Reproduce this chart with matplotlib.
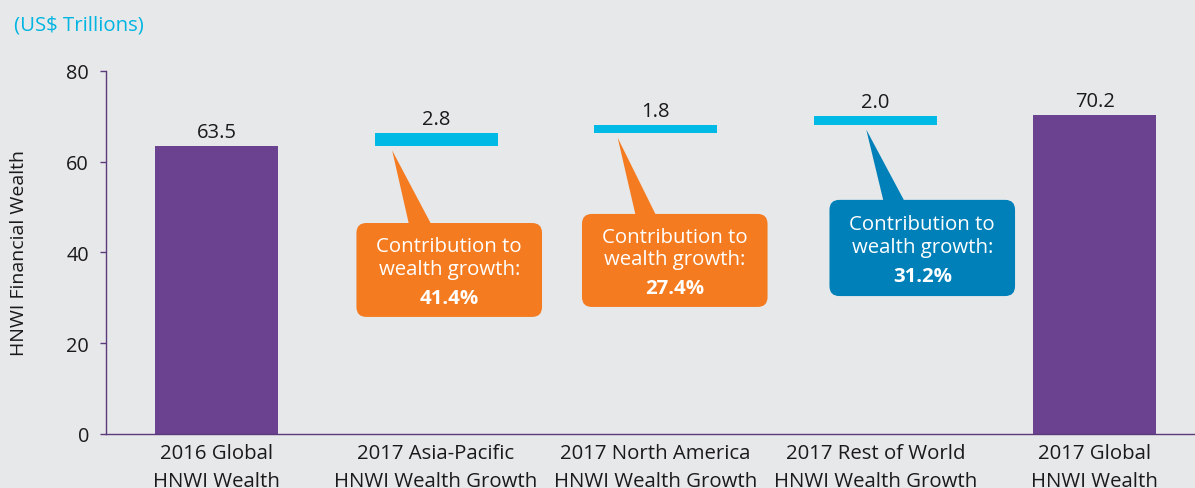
import matplotlib.pyplot as plt
from matplotlib.patches import FancyBboxPatch, Polygon
import numpy as np

categories = [
    "2016 Global\nHNWI Wealth",
    "2017 Asia-Pacific\nHNWI Wealth Growth",
    "2017 North America\nHNWI Wealth Growth",
    "2017 Rest of World\nHNWI Wealth Growth",
    "2017 Global\nHNWI Wealth",
]
values = [63.5, 2.8, 1.8, 2.0, 70.2]
is_total = [True, False, False, False, True]

contrib_cats = [1, 2, 3]
contrib_pct = ["41.4%", "27.4%", "31.2%"]
contrib_colors = ["#f47b20", "#f47b20", "#0080b9"]

# callout layout: box centre offset from bar (cat units), box y range, pointer base offsets
box_dx = [0.06, 0.087, 0.214]
box_y = [(25.8, 46.5), (28.0, 48.5), (30.4, 51.6)]
apex_dx = [-0.20, -0.173, -0.041]
base_dx = [(-0.12, -0.014), (-0.088, 0.009), (0.041, 0.141)]

PURPLE = "#6b4290"
CYAN = "#00b9e4"
BG = "#e7e8ea"
AXIS = "#5b3a7c"
TXT = "#1a1a1a"

plt.rcParams["font.family"] = ["Open Sans", "DejaVu Sans"]

W, H = 1195, 489
fig = plt.figure(figsize=(W / 100, H / 100), dpi=100, facecolor=BG)
ax = fig.add_axes([106 / W, 54 / H, 1 - 106 / W, 363 / H])
ax.set_facecolor(BG)

x = np.arange(len(values))
bottoms = []
run = 0.0
for v, tot in zip(values, is_total):
    if tot:
        bottoms.append(0.0)
        run = v
    else:
        bottoms.append(run)
        run += v
colors = [PURPLE if t else CYAN for t in is_total]
ax.bar(x, values, bottom=bottoms, width=0.56, color=colors, zorder=2)

for i, (v, b) in enumerate(zip(values, bottoms)):
    ax.annotate(f"{v:.1f}", (i, b + v), xytext=(0, 6.5), textcoords="offset points",
                ha="center", va="baseline", fontsize=14.5, color=TXT)

ax.set_xlim(-0.503, 4.456)
ax.set_ylim(0, 80)
ax.set_yticks([0, 20, 40, 60, 80])
ax.set_xticks(x)
ax.set_xticklabels(categories, fontsize=14.7, color=TXT, linespacing=1.55)
ax.tick_params(axis="x", length=0, pad=6.5)
ax.tick_params(axis="y", length=4.3, width=1, color=AXIS, pad=8, labelsize=14.3, labelcolor=TXT)
for s in ["top", "right"]:
    ax.spines[s].set_visible(False)
for s in ["left", "bottom"]:
    ax.spines[s].set_color(AXIS)
    ax.spines[s].set_linewidth(1)

ax.set_ylabel("HNWI Financial Wealth", fontsize=14, color=TXT)
ax.yaxis.set_label_coords(-0.0716, 0.5)

fig.text(14 / W, 1 - 26 / H, "(US$ Trillions)", fontsize=14.7, color="#00b5e2", va="center", ha="left")

# aspect so rounded corners look circular
ax_w = ax.get_position().width * W
ax_h = ax.get_position().height * H
xr = 4.456 + 0.503
asp = (80 / ax_h) / (xr / ax_w)

for k, c in enumerate(contrib_cats):
    cx = c + box_dx[k]
    y0, y1 = box_y[k]
    bw = 0.845
    col = contrib_colors[k]
    box = FancyBboxPatch((cx - bw / 2, y0), bw, y1 - y0,
                         boxstyle="round,pad=0,rounding_size=0.045",
                         mutation_aspect=asp, facecolor=col, edgecolor="none", zorder=3)
    ax.add_patch(box)
    apex_y = bottoms[c] - 1.0
    tri = Polygon([(c + apex_dx[k], apex_y), (c + base_dx[k][0], y1 - 1), (c + base_dx[k][1], y1 - 1)],
                  closed=True, facecolor=col, edgecolor="none", zorder=3)
    ax.add_patch(tri)
    cy = (y0 + y1) / 2
    ax.annotate("Contribution to\nwealth growth:", (cx, cy), xytext=(0, 9.0), textcoords="offset points",
                ha="center", va="center", color="white", fontsize=14.7, zorder=4, linespacing=1.15)
    ax.annotate(contrib_pct[k], (cx, cy), xytext=(0, -20), textcoords="offset points",
                ha="center", va="center", color="white", fontsize=14.7, fontweight="bold", zorder=4)

fig.savefig("out.png", dpi=100, facecolor=BG)
